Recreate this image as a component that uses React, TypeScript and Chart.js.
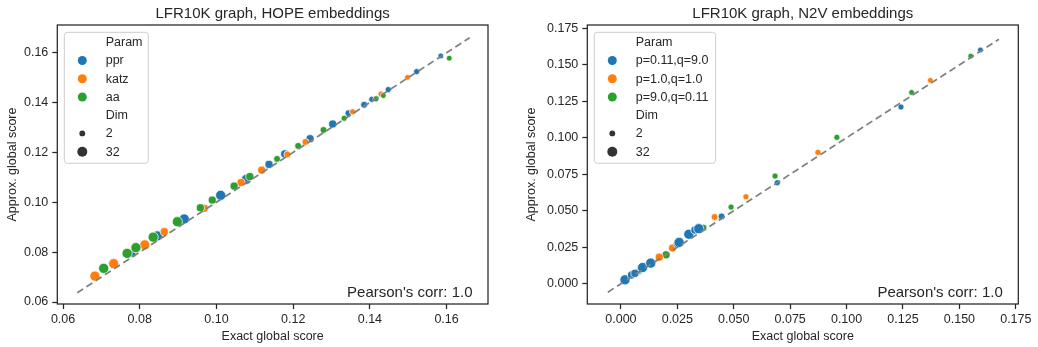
import React, { useEffect, useRef } from "react";
import { Chart, registerables } from "chart.js";
Chart.register(...registerables);

const FONT = "'Liberation Sans', Arial, Helvetica, sans-serif";
const TEXT = "#262626";
const COLORS = ["#1f77b4", "#ff7f0e", "#2ca02c"];
const DIM_LEGEND = [2, 32];

// ---- HOPE chart data ----
const HOPE_TITLE = "LFR10K graph, HOPE embeddings";
const HOPE_PARAMS = ["ppr", "katz", "aa"];
const HOPE_PPR_X = [0.0781, 0.0846, 0.0916, 0.1011, 0.1078, 0.1137, 0.1178, 0.1244, 0.1303, 0.1344, 0.1385, 0.1405, 0.1448, 0.1522, 0.1585];
const HOPE_PPR_Y = [0.0793, 0.0865, 0.0933, 0.1028, 0.1092, 0.1152, 0.1194, 0.1255, 0.1314, 0.1357, 0.1391, 0.1413, 0.1452, 0.1524, 0.1587];
const HOPE_PPR_DIM = [8, 32, 32, 32, 32, 16, 16, 16, 16, 8, 8, 4, 4, 4, 2];
const HOPE_KATZ_X = [0.0683, 0.0732, 0.0813, 0.0864, 0.0968, 0.1064, 0.1118, 0.1185, 0.1232, 0.1355, 0.1429, 0.1498];
const HOPE_KATZ_Y = [0.0704, 0.0754, 0.0829, 0.0882, 0.0976, 0.1079, 0.1129, 0.1192, 0.1242, 0.1363, 0.1434, 0.1501];
const HOPE_KATZ_DIM = [32, 32, 32, 16, 16, 16, 16, 8, 8, 4, 4, 2];
const HOPE_AA_X = [0.0706, 0.0767, 0.0790, 0.0835, 0.0898, 0.0958, 0.0989, 0.1046, 0.1087, 0.1158, 0.1213, 0.1279, 0.1333, 0.1416, 0.1435, 0.1607];
const HOPE_AA_Y = [0.0735, 0.0795, 0.0818, 0.0860, 0.0922, 0.0978, 0.1009, 0.1065, 0.1103, 0.1174, 0.1226, 0.1290, 0.1337, 0.1415, 0.1428, 0.1578];
const HOPE_AA_DIM = [32, 32, 32, 32, 32, 16, 16, 16, 16, 8, 8, 8, 4, 4, 2, 2];
const HOPE_DIAG = [0.0637, 0.166];
const HOPE_X_TICKS = [0.06, 0.08, 0.1, 0.12, 0.14, 0.16];
const HOPE_Y_TICKS = [0.06, 0.08, 0.1, 0.12, 0.14, 0.16];
const HOPE_X_RANGE = [0.0585, 0.1708];
const HOPE_Y_RANGE = [0.0592, 0.1711];
const HOPE_NOTE = "Pearson's corr: 1.0";

// ---- N2V chart data ----
const N2V_TITLE = "LFR10K graph, N2V embeddings";
const N2V_PARAMS = ["p=0.11,q=9.0", "p=1.0,q=1.0", "p=9.0,q=0.11"];
const N2V_A_X = [0.0018, 0.0047, 0.0062, 0.0096, 0.0132, 0.0250, 0.0258, 0.0301, 0.0328, 0.0345, 0.0446, 0.0693, 0.1241, 0.1593];
const N2V_A_Y = [0.0027, 0.0060, 0.0071, 0.0111, 0.0141, 0.0275, 0.0283, 0.0339, 0.0368, 0.0377, 0.0461, 0.0692, 0.1211, 0.1602];
const N2V_A_DIM = [32, 16, 16, 32, 32, 16, 32, 32, 16, 32, 8, 4, 4, 2];
const N2V_B_X = [0.0170, 0.0229, 0.0415, 0.0554, 0.0873, 0.1371];
const N2V_B_Y = [0.0182, 0.0245, 0.0457, 0.0596, 0.0900, 0.1394];
const N2V_B_DIM = [16, 16, 8, 4, 4, 2];
const N2V_C_X = [0.0066, 0.0072, 0.0081, 0.0200, 0.0366, 0.0488, 0.0683, 0.0957, 0.1288, 0.1550];
const N2V_C_Y = [0.0072, 0.0079, 0.0088, 0.0198, 0.0384, 0.0525, 0.0738, 0.1003, 0.1311, 0.1560];
const N2V_C_DIM = [8, 8, 8, 16, 8, 4, 4, 4, 2, 2];
const N2V_DIAG = [-0.0058, 0.1675];
const N2V_X_TICKS = [0, 0.025, 0.05, 0.075, 0.1, 0.125, 0.15, 0.175];
const N2V_Y_TICKS = [0, 0.025, 0.05, 0.075, 0.1, 0.125, 0.15, 0.175];
const N2V_X_RANGE = [-0.0149, 0.1761];
const N2V_Y_RANGE = [-0.0139, 0.1773];
const N2V_NOTE = "Pearson's corr: 1.0";

const X_LABEL = "Exact global score";
const Y_LABEL = "Approx. global score";

function dimRadius(d: number) {
  const rmin = 2.9, rmax = 5.1;
  return Math.sqrt(rmin * rmin + (rmax * rmax - rmin * rmin) * (d - 2) / 30);
}

function series(xs: number[], ys: number[], dims: number[], color: string, label: string, order: number) {
  return {
    type: "scatter" as const,
    label,
    order,
    data: xs.map((x, i) => ({ x, y: ys[i] })),
    pointRadius: dims.map(dimRadius),
    pointBackgroundColor: color,
    pointBorderColor: "#ffffff",
    pointBorderWidth: 0.75,
    showLine: false,
  };
}

const decorPlugin = {
  id: "decor",
  afterDraw(chart: any, _args: any, opts: any) {
    const { ctx, chartArea: a } = chart;
    ctx.save();
    // frame
    ctx.strokeStyle = TEXT;
    ctx.lineWidth = 1.25;
    ctx.strokeRect(a.left, a.top, a.right - a.left, a.bottom - a.top);
    // title
    ctx.fillStyle = TEXT;
    ctx.font = `15px ${FONT}`;
    ctx.textAlign = "center";
    ctx.textBaseline = "alphabetic";
    ctx.fillText(opts.title, (a.left + a.right) / 2, 17.5);
    // note
    ctx.textAlign = "right";
    ctx.fillText(opts.note, a.right - 15.5, a.bottom - 7.4);
    // legend
    const bx = a.left + 7, by = a.top + 7.3, bw = opts.legendWidth, bh = 131;
    ctx.beginPath();
    const r = 3;
    ctx.moveTo(bx + r, by);
    ctx.lineTo(bx + bw - r, by);
    ctx.arcTo(bx + bw, by, bx + bw, by + r, r);
    ctx.lineTo(bx + bw, by + bh - r);
    ctx.arcTo(bx + bw, by + bh, bx + bw - r, by + bh, r);
    ctx.lineTo(bx + r, by + bh);
    ctx.arcTo(bx, by + bh, bx, by + bh - r, r);
    ctx.lineTo(bx, by + r);
    ctx.arcTo(bx, by, bx + r, by, r);
    ctx.closePath();
    ctx.fillStyle = "rgba(255,255,255,0.8)";
    ctx.fill();
    ctx.strokeStyle = "#cccccc";
    ctx.lineWidth = 1;
    ctx.stroke();

    const mx = bx + 18, tx = bx + 41.4, y0 = by + 10, step = 18.23;
    ctx.font = `12.5px ${FONT}`;
    ctx.textAlign = "left";
    ctx.textBaseline = "middle";
    const rows: { label: string; color?: string; radius?: number }[] = [];
    rows.push({ label: "Param" });
    opts.params.forEach((p: string, i: number) => rows.push({ label: p, color: COLORS[i], radius: 4.5 }));
    rows.push({ label: "Dim" });
    DIM_LEGEND.forEach((d) => rows.push({ label: String(d), color: "#333333", radius: d === 2 ? 2.9 : 5 }));
    rows.forEach((row, i) => {
      const y = y0 + i * step;
      if (row.color) {
        ctx.beginPath();
        ctx.arc(mx, y, row.radius, 0, Math.PI * 2);
        ctx.fillStyle = row.color;
        ctx.fill();
      }
      ctx.fillStyle = TEXT;
      ctx.fillText(row.label, tx, y + 0.5);
    });
    ctx.restore();
  },
};

function axis(range: number[], ticks: number[], decimals: number, title: string, isX: boolean, size: number) {
  return {
    type: "linear" as const,
    min: range[0],
    max: range[1],
    afterBuildTicks: (s: any) => {
      s.ticks = ticks.map((v) => ({ value: v }));
    },
    afterFit: (s: any) => {
      if (isX) s.height = size;
      else s.width = size;
    },
    ticks: {
      callback: (v: any) => Number(v).toFixed(decimals),
      color: TEXT,
      font: { family: FONT, size: 12.5 },
      padding: isX ? 3 : 4,
      maxRotation: 0,
      minRotation: 0,
      autoSkip: false,
    },
    grid: {
      display: true,
      drawOnChartArea: false,
      drawTicks: true,
      tickLength: 5,
      tickWidth: 1.25,
      tickColor: TEXT,
    },
    border: { display: false },
    title: {
      display: true,
      text: title,
      color: TEXT,
      font: { family: FONT, size: 12.5 },
      padding: isX ? { top: 0, bottom: 2.8 } : { top: 5.2, bottom: 0 },
    },
  };
}

type Cfg = {
  datasets: any[];
  xr: number[]; yr: number[]; xt: number[]; yt: number[]; dec: number;
  yWidth: number; padRight: number;
  title: string; note: string; params: string[]; legendWidth: number;
};

function Panel({ cfg, left }: { cfg: Cfg; left: number }) {
  const ref = useRef<HTMLCanvasElement>(null);
  useEffect(() => {
    const chart = new Chart(ref.current!, {
      type: "scatter",
      data: { datasets: cfg.datasets },
      options: {
        animation: false,
        responsive: false,
        maintainAspectRatio: false,
        devicePixelRatio: 1,
        events: [],
        layout: { padding: { left: 0, right: cfg.padRight, top: 25, bottom: 0 } },
        plugins: {
          legend: { display: false },
          tooltip: { enabled: false },
          title: { display: false },
          decor: { title: cfg.title, note: cfg.note, params: cfg.params, legendWidth: cfg.legendWidth },
        } as any,
        scales: {
          x: axis(cfg.xr, cfg.xt, cfg.dec, X_LABEL, true, 43),
          y: axis(cfg.yr, cfg.yt, cfg.dec, Y_LABEL, false, cfg.yWidth),
        },
      },
      plugins: [decorPlugin],
    });
    return () => chart.destroy();
  }, []);
  return (
    <canvas
      ref={ref}
      width={519}
      height={347}
      style={{ position: "absolute", left, top: 0, width: 519, height: 347 }}
    />
  );
}

function diag(d: number[]) {
  return {
    type: "scatter" as const,
    order: 0,
    data: d.map((v) => ({ x: v, y: v })),
    showLine: true,
    borderColor: "#808080",
    borderWidth: 1.75,
    borderDash: [7, 4],
    pointRadius: 0,
    fill: false,
  };
}

const HOPE_CFG: Cfg = {
  datasets: [
    diag(HOPE_DIAG),
    series(HOPE_AA_X, HOPE_AA_Y, HOPE_AA_DIM, COLORS[2], HOPE_PARAMS[2], 1),
    series(HOPE_KATZ_X, HOPE_KATZ_Y, HOPE_KATZ_DIM, COLORS[1], HOPE_PARAMS[1], 2),
    series(HOPE_PPR_X, HOPE_PPR_Y, HOPE_PPR_DIM, COLORS[0], HOPE_PARAMS[0], 3),
  ],
  xr: HOPE_X_RANGE, yr: HOPE_Y_RANGE, xt: HOPE_X_TICKS, yt: HOPE_Y_TICKS, dec: 2,
  yWidth: 57.3, padRight: 31,
  title: HOPE_TITLE, note: HOPE_NOTE, params: HOPE_PARAMS, legendWidth: 84,
};

const N2V_CFG: Cfg = {
  datasets: [
    diag(N2V_DIAG),
    series(N2V_A_X, N2V_A_Y, N2V_A_DIM, COLORS[0], N2V_PARAMS[0], 1),
    series(N2V_B_X, N2V_B_Y, N2V_B_DIM, COLORS[1], N2V_PARAMS[1], 2),
    series(N2V_C_X, N2V_C_Y, N2V_C_DIM, COLORS[2], N2V_PARAMS[2], 3),
  ],
  xr: N2V_X_RANGE, yr: N2V_Y_RANGE, xt: N2V_X_TICKS, yt: N2V_Y_TICKS, dec: 3,
  yWidth: 68.3, padRight: 19.7,
  title: N2V_TITLE, note: N2V_NOTE, params: N2V_PARAMS, legendWidth: 121.3,
};

export default function App() {
  return (
    <div style={{ position: "fixed", left: 0, top: 0, width: 1038, height: 347, background: "#ffffff" }}>
      <Panel cfg={HOPE_CFG} left={0} />
      <Panel cfg={N2V_CFG} left={519} />
    </div>
  );
}
